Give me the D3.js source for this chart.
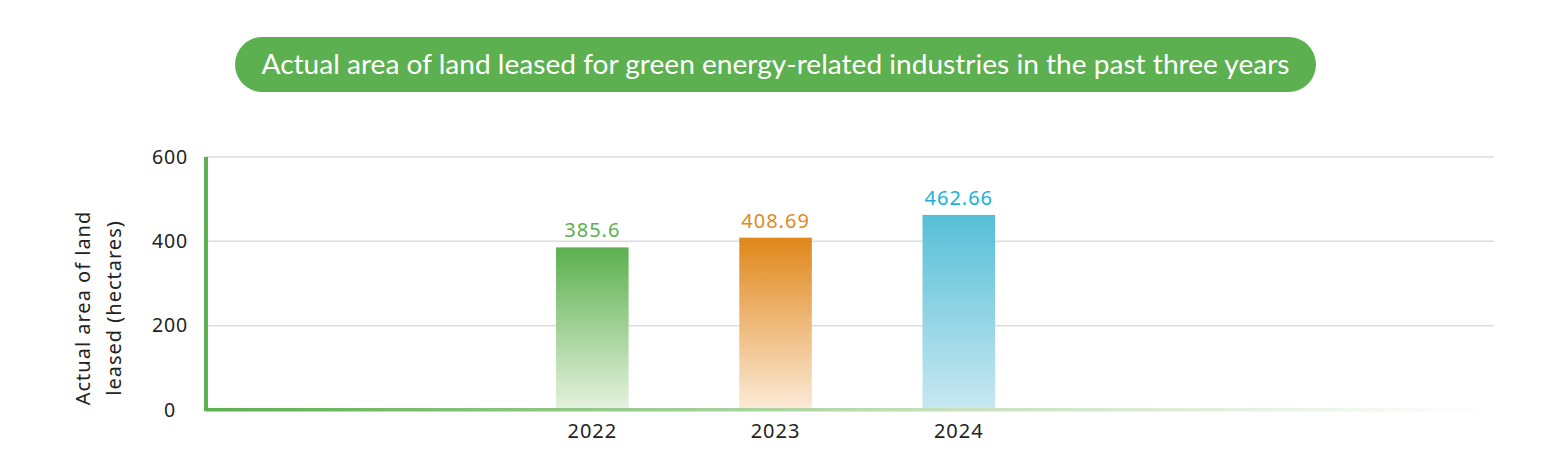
<!DOCTYPE html>
<html>
<head>
<meta charset="utf-8">
<script src="https://cdn.jsdelivr.net/npm/d3@7"></script>
<style>
  html, body { margin: 0; padding: 0; background: #fff; }
  svg { display: block; }
</style>
</head>
<body>
<svg id="chart"></svg>
<script>
const title = 'Actual area of land leased for green energy-related industries in the past three years';
const years = ['2022', '2023', '2024'];
const areas = [385.6, 408.69, 462.66];
const yTicks = [0, 200, 400, 600];
const yTitleLines = ['Actual area of land', 'leased (hectares)'];
const barTop = ['#5cb04f', '#e0871a', '#56bfd7'];
const barBottom = ['#e6f2df', '#fbebd8', '#c8e8f1'];
const labelColors = ['#5cb04f', '#e08a22', '#1ab1d9'];

const width = 1560, height = 460;
const margin = { top: 157, right: 66, bottom: 50, left: 206 };

const svg = d3.select('#chart')
  .attr('width', width)
  .attr('height', height);

const defs = svg.append('defs');

// title pill
svg.append('rect')
  .attr('x', 235).attr('y', 37)
  .attr('width', 1081).attr('height', 55)
  .attr('rx', 27.5)
  .attr('fill', '#5cb04f');

svg.append('text')
  .attr('x', 775.5).attr('y', 64)
  .attr('text-anchor', 'middle')
  .attr('dominant-baseline', 'central')
  .attr('fill', '#fff')
  .attr('font-family', 'Lato, sans-serif')
  .attr('font-size', 26)
  .attr('textLength', 1028)
  .attr('lengthAdjust', 'spacingAndGlyphs')
  .text(title);

const y = d3.scaleLinear()
  .domain([0, 600])
  .range([410, margin.top]);

const x = d3.scaleBand()
  .domain(years)
  .range([500.7, 1050.4])
  .paddingInner(0.604)
  .paddingOuter(0.302);

// gridlines
svg.append('g')
  .selectAll('line')
  .data(yTicks.filter(d => d > 0))
  .join('line')
  .attr('x1', margin.left).attr('x2', width - margin.right)
  .attr('y1', d => y(d)).attr('y2', d => y(d))
  .attr('stroke', '#dcdcdc')
  .attr('stroke-width', 1.5);

// y axis labels (centered under each other)
const yAxis = svg.append('g')
  .attr('transform', `translate(${margin.left},0)`)
  .call(d3.axisLeft(y).tickValues(yTicks).tickSize(0).tickPadding(36));
yAxis.select('.domain').remove();
yAxis.selectAll('text')
  .attr('text-anchor', 'middle')
  .attr('font-family', '"Noto Sans", sans-serif')
  .attr('font-size', 19.5)
  .attr('fill', '#222')
  .attr('letter-spacing', 0.8);

// y title
const yTitle = svg.append('text')
  .attr('transform', 'translate(98,308) rotate(-90)')
  .attr('text-anchor', 'middle')
  .attr('font-family', '"Noto Sans", sans-serif')
  .attr('font-size', 20)
  .attr('fill', '#222')
  .attr('letter-spacing', 1);
yTitle.selectAll('tspan')
  .data(yTitleLines)
  .join('tspan')
  .attr('x', 0)
  .attr('y', (d, i) => i === 0 ? -8 : 23)
  .text(d => d);

// bar gradients
years.forEach((yr, i) => {
  const g = defs.append('linearGradient')
    .attr('id', 'bar' + i)
    .attr('x1', 0).attr('y1', 0).attr('x2', 0).attr('y2', 1);
  g.append('stop').attr('offset', '0%').attr('stop-color', barTop[i]);
  g.append('stop').attr('offset', '100%').attr('stop-color', barBottom[i]);
});

svg.append('g')
  .selectAll('rect')
  .data(areas)
  .join('rect')
  .attr('x', (d, i) => x(years[i]))
  .attr('y', d => y(d))
  .attr('width', x.bandwidth())
  .attr('height', d => y(0) - y(d))
  .attr('fill', (d, i) => `url(#bar${i})`);

svg.append('g')
  .selectAll('text')
  .data(areas)
  .join('text')
  .attr('x', (d, i) => x(years[i]) + x.bandwidth() / 2)
  .attr('y', d => y(d) - 10)
  .attr('text-anchor', 'middle')
  .attr('font-family', '"Noto Sans", sans-serif')
  .attr('font-size', 20)
  .attr('letter-spacing', 1)
  .attr('fill', (d, i) => labelColors[i])
  .text(d => d);

// x axis line with fading gradient
const axisGrad = defs.append('linearGradient')
  .attr('id', 'axisGrad')
  .attr('x1', 0).attr('y1', 0).attr('x2', 1).attr('y2', 0);
axisGrad.append('stop').attr('offset', '0%').attr('stop-color', '#5cb04f');
axisGrad.append('stop').attr('offset', '60%').attr('stop-color', '#c9e2bf');
axisGrad.append('stop').attr('offset', '100%').attr('stop-color', '#ffffff');

svg.append('rect')
  .attr('x', margin.left).attr('y', 408)
  .attr('width', width - margin.right - margin.left)
  .attr('height', 3.5)
  .attr('fill', 'url(#axisGrad)');

const xAxis = svg.append('g')
  .attr('transform', 'translate(0,411)')
  .call(d3.axisBottom(x).tickSize(0).tickPadding(13));
xAxis.select('.domain').remove();
xAxis.selectAll('text')
  .attr('font-family', '"Noto Sans", sans-serif')
  .attr('font-size', 20)
  .attr('fill', '#222')
  .attr('letter-spacing', 1);

// y axis line
svg.append('line')
  .attr('x1', margin.left).attr('x2', margin.left)
  .attr('y1', margin.top).attr('y2', 411)
  .attr('stroke', '#5cb04f')
  .attr('stroke-width', 4);
</script>
</body>
</html>
